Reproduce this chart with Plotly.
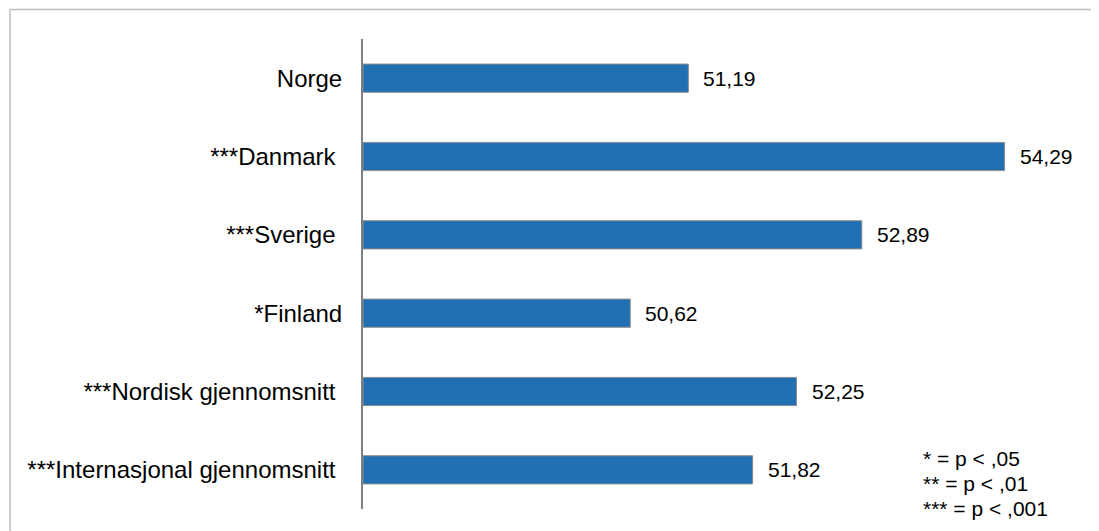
import plotly.graph_objects as go

categories = ["Norge", "***Danmark", "***Sverige", "*Finland",
              "***Nordisk gjennomsnitt", "***Internasjonal gjennomsnitt"]
tick_labels = ["Norge", "***Danmark\u00a0", "***Sverige\u00a0", "*Finland",
               "***Nordisk gjennomsnitt\u00a0", "***Internasjonal gjennomsnitt\u00a0"]
values = [51.19, 54.29, 52.89, 50.62, 52.25, 51.82]
axis_min = 48
axis_max = 55
footnote_lines = ["* = p < ,05", "** = p < ,01", "*** = p < ,001"]

FONT = "Liberation Sans, Arial, sans-serif"

# page has an 8px body margin; figure geometry is expressed in figure pixels
W, H = 1091, 523
L, R, T, B = 355, 22, 31, 22
PW, PH = W - L - R, H - T - B


def px_x(x):
    return (x - L) / PW


def px_y(y):
    return (H - B - y) / PH


fig = go.Figure()
fig.add_trace(go.Bar(
    y=categories, x=[v - axis_min for v in values], base=axis_min, orientation="h",
    marker=dict(color="#2170B4", line=dict(color="#8c8c8c", width=1)),
    hoverinfo="skip",
))

for c, v in zip(categories, values):
    fig.add_annotation(x=v, y=c, xref="x", yref="y",
                       text=f"{v:.2f}".replace(".", ","),
                       showarrow=False, xanchor="left", xshift=13,
                       font=dict(family=FONT, size=21, color="#000000"))

for i, line in enumerate(footnote_lines):
    fig.add_annotation(xref="paper", yref="paper", x=px_x(913), y=px_y(450 + 25 * i),
                       xanchor="left", yanchor="middle", align="left",
                       text=line, showarrow=False,
                       font=dict(family=FONT, size=21, color="#000000"))

# outer border
fig.add_shape(type="rect", xref="paper", yref="paper",
              x0=px_x(2), x1=px_x(1110), y0=px_y(545), y1=px_y(1.5),
              line=dict(color="#bdbdbd", width=1.5), layer="below")

fig.update_layout(
    width=W, height=H,
    margin=dict(l=L, r=R, t=T, b=B),
    paper_bgcolor="white", plot_bgcolor="white",
    bargap=0.64, showlegend=False,
    font=dict(family=FONT, color="#000000"),
)
fig.update_xaxes(range=[axis_min, axis_max], visible=False, showgrid=False, zeroline=False)
fig.update_yaxes(autorange="reversed", tickmode="array", tickvals=categories,
                 ticktext=tick_labels, showline=True, linecolor="#808080",
                 linewidth=2, ticks="", ticklabelstandoff=14,
                 tickfont=dict(family=FONT, size=24, color="#000000"),
                 showgrid=False, zeroline=False)

fig.write_html("out.html")
